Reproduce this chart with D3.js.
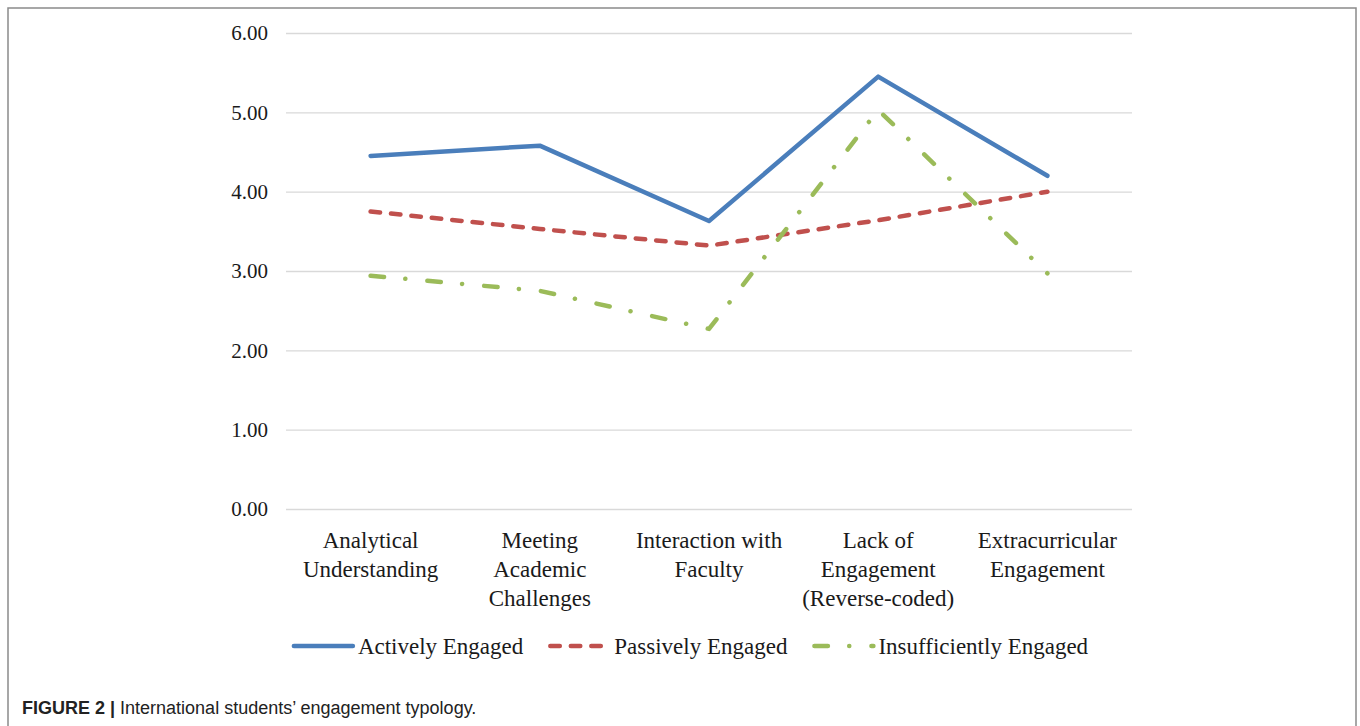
<!DOCTYPE html>
<html>
<head>
<meta charset="utf-8">
<script src="https://cdn.jsdelivr.net/npm/d3@7"></script>
<style>
  body { margin: 0; background: #fff; }
  svg { display: block; }
</style>
</head>
<body>
<div class="viz"></div>
<script>
// data
var categories = ["Analytical Understanding", "Meeting Academic Challenges", "Interaction with Faculty",
                  "Lack of Engagement (Reverse-coded)", "Extracurricular Engagement"];
var seriesNames = ["Actively Engaged", "Passively Engaged", "Insufficiently Engaged"];
var activelyEngaged = [4.45, 4.58, 3.63, 5.45, 4.20];
var passivelyEngaged = [3.75, 3.53, 3.32, 3.64, 4.00];
var insufficientlyEngaged = [2.94, 2.75, 2.27, 5.03, 2.97];
var yTicks = [0, 1, 2, 3, 4, 5, 6];

var w = 1360;
var h = 726;
var plotLeft = 286, plotRight = 1132, plotTop = 33, plotBottom = 509;
var serif = "'Liberation Serif', 'Times New Roman', serif";

var series = [
    { name: seriesNames[0], values: activelyEngaged, color: "#4a7ebb", dash: null },
    { name: seriesNames[1], values: passivelyEngaged, color: "#c0504d", dash: "9.5,11" },
    { name: seriesNames[2], values: insufficientlyEngaged, color: "#9bbb59", dash: "13.5,21.3,0.1,22.1" }
];

var svg = d3.select(".viz")
        .append("svg")
        .attr("width", w)
        .attr("height", h);

// frame
svg.append("rect")
    .attr("x", 8)
    .attr("y", 8)
    .attr("width", 1348)
    .attr("height", 760)
    .attr("fill", "none")
    .attr("stroke", "#8a8a8a")
    .attr("stroke-width", 1.5);

var xScale = d3.scaleBand()
            .domain(categories)
            .range([plotLeft, plotRight])
            .paddingInner(0)
            .paddingOuter(0);

var yScale = d3.scaleLinear()
            .domain([0, 6])
            .range([plotBottom, plotTop]);

// gridlines + y labels
var yaxis = d3.axisLeft(yScale)
            .tickValues(yTicks)
            .tickSize(-(plotRight - plotLeft))
            .tickPadding(18)
            .tickFormat(d3.format(".2f"));

var gy = svg.append("g")
    .attr("class", "y axis")
    .attr("transform", "translate(" + plotLeft + ",0)")
    .call(yaxis);
gy.select(".domain").remove();
gy.selectAll("line").attr("stroke", "#d9d9d9").attr("stroke-width", 1.3);
gy.selectAll("text")
    .attr("font-family", serif)
    .attr("font-size", "21px")
    .attr("fill", "#1a1a1a");

// x labels
var xaxis = d3.axisBottom(xScale).tickSize(0).tickPadding(0);
var gx = svg.append("g")
    .attr("class", "x axis")
    .attr("transform", "translate(0," + plotBottom + ")")
    .call(xaxis);
gx.select(".domain").remove();
gx.selectAll("text")
    .attr("font-family", serif)
    .attr("font-size", "23px")
    .attr("fill", "#1a1a1a")
    .attr("dy", 0)
    .call(wrap, 162);

function wrap(texts, width) {
    texts.each(function() {
        var text = d3.select(this);
        var words = text.text().split(/\s+/);
        var line = [];
        var lineNo = 0;
        text.text(null);
        var tspan = text.append("tspan").attr("x", 0).attr("y", 39);
        words.forEach(function(word) {
            line.push(word);
            tspan.text(line.join(" "));
            if (tspan.node().getComputedTextLength() > width && line.length > 1) {
                line.pop();
                tspan.text(line.join(" "));
                line = [word];
                lineNo++;
                tspan = text.append("tspan").attr("x", 0).attr("y", 39 + lineNo * 29).text(word);
            }
        });
    });
}

// lines
var lineGen = d3.line()
    .x(function(d, i) { return xScale(categories[i]) + xScale.bandwidth() / 2; })
    .y(function(d) { return yScale(d); });

svg.selectAll(".series")
    .data(series)
    .enter()
    .append("path")
    .attr("class", "series")
    .attr("d", function(d) { return lineGen(d.values); })
    .attr("fill", "none")
    .attr("stroke", function(d) { return d.color; })
    .attr("stroke-width", 4.5)
    .attr("stroke-linejoin", "round")
    .attr("stroke-linecap", "round")
    .attr("stroke-dasharray", function(d) { return d.dash; });

// legend
var legendY = 646;
var sampleLen = 59;
var legend = svg.append("g").attr("class", "legend");
var items = legend.selectAll("g")
    .data(series)
    .enter()
    .append("g");
items.append("line")
    .attr("x1", 0)
    .attr("x2", sampleLen)
    .attr("y1", 0)
    .attr("y2", 0)
    .attr("stroke", function(d) { return d.color; })
    .attr("stroke-width", 4.5)
    .attr("stroke-linecap", "round")
    .attr("stroke-dasharray", function(d) { return d.dash; });
items.append("text")
    .attr("x", sampleLen + 5)
    .attr("y", 0)
    .attr("dy", "0.33em")
    .attr("font-family", serif)
    .attr("font-size", "23px")
    .attr("fill", "#1a1a1a")
    .text(function(d) { return d.name; });

var xs = [];
var cur = 0;
items.each(function() {
    xs.push(cur);
    cur += sampleLen + 5 + d3.select(this).select("text").node().getComputedTextLength() + 27;
});
var total = cur - 27;
var startX = 691 - total / 2;
items.attr("transform", function(d, i) { return "translate(" + (startX + xs[i]) + "," + legendY + ")"; });

// caption
var caption = svg.append("text")
    .attr("x", 22)
    .attr("y", 714)
    .attr("font-family", "'Liberation Sans', Arial, sans-serif")
    .attr("font-size", "18px")
    .attr("fill", "#222");
caption.append("tspan").attr("font-weight", "bold").text("FIGURE 2 | ");
caption.append("tspan").text("International students\u2019 engagement typology.");
</script>
</body>
</html>
